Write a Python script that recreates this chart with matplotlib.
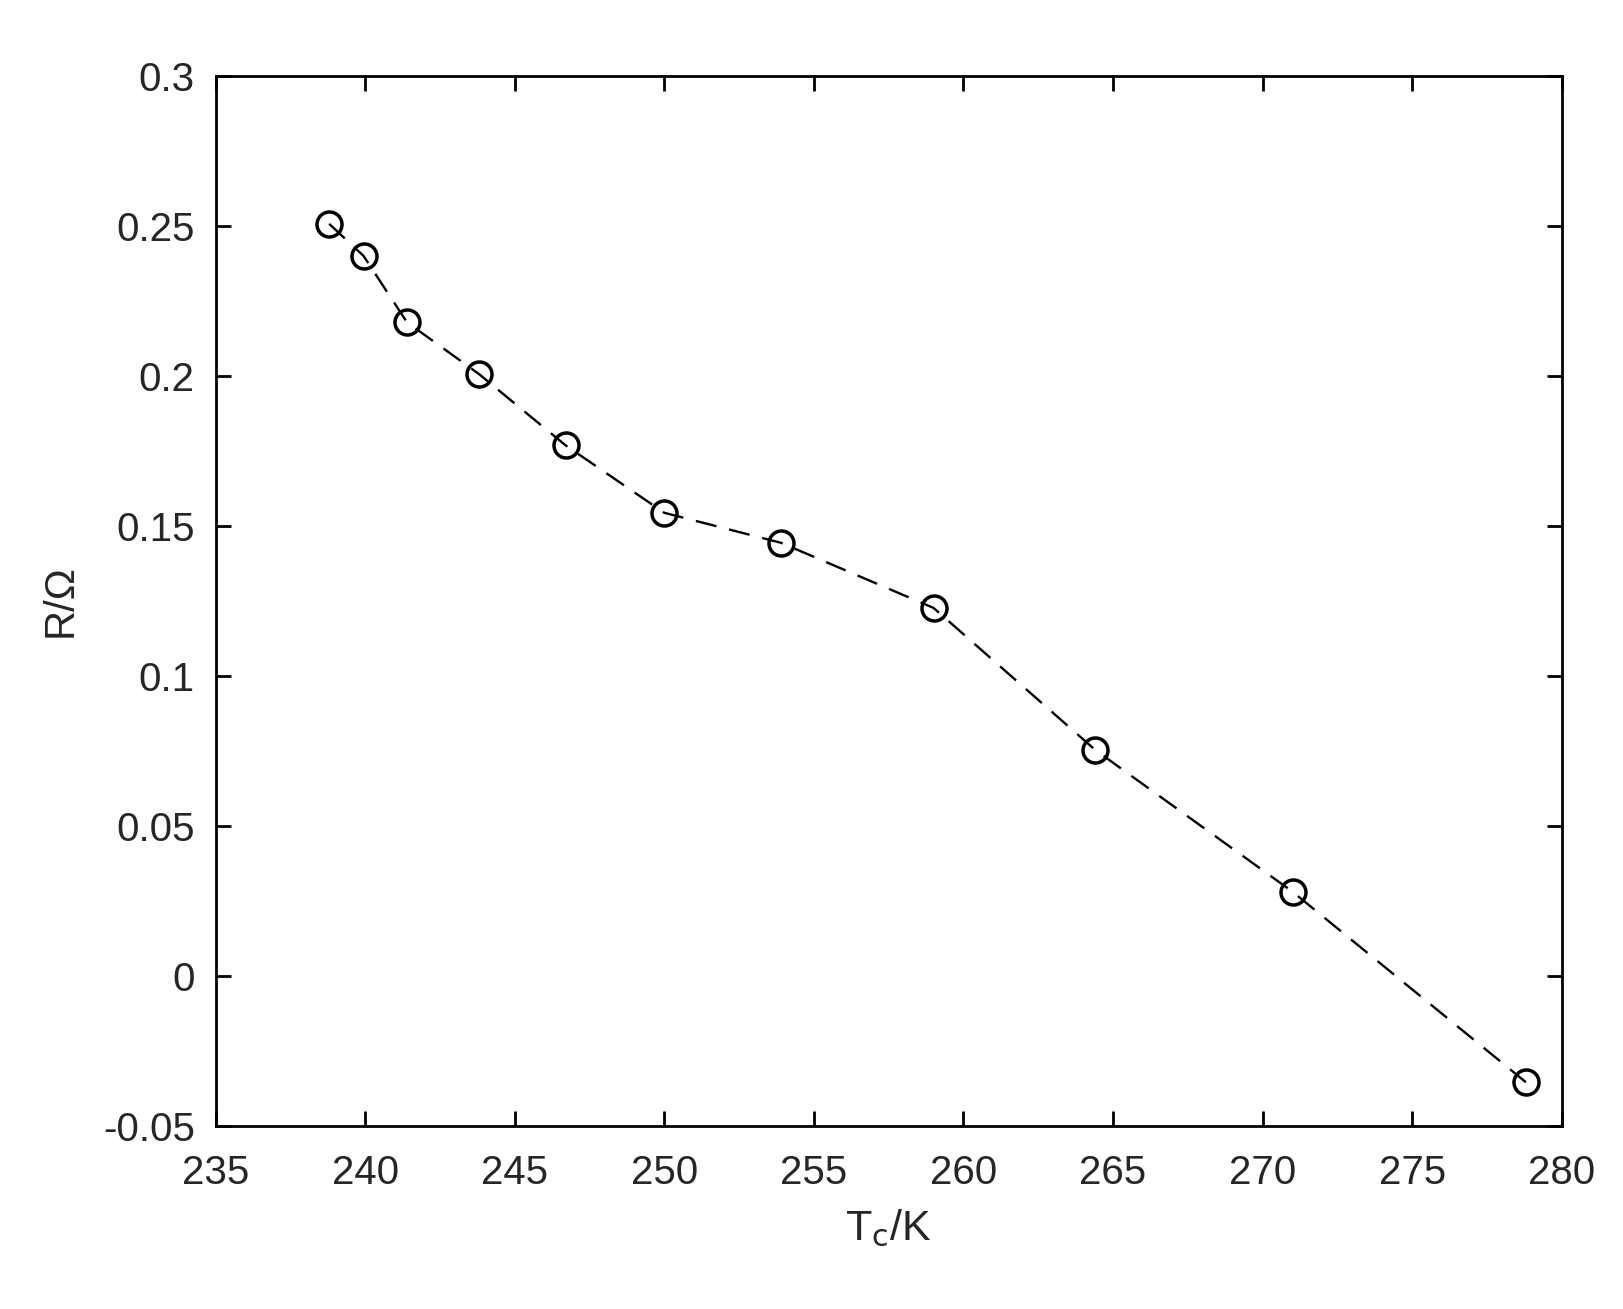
import matplotlib
matplotlib.use("Agg")
import matplotlib.pyplot as plt

# ── Data ────────────────────────────────────────────────────────────────────
tc = [238.8, 239.95, 241.4, 243.8, 246.7, 250.0, 253.9, 259.0, 264.4, 271.0, 278.8]
r = [0.2506, 0.2399, 0.2178, 0.2006, 0.1768, 0.1543, 0.1443, 0.1226, 0.0753, 0.0280, -0.0355]

xticks = [235, 240, 245, 250, 255, 260, 265, 270, 275, 280]
yticks = [-0.05, 0, 0.05, 0.1, 0.15, 0.2, 0.25, 0.3]
ytick_labels = ["-0.05", "0", "0.05", "0.1", "0.15", "0.2", "0.25", "0.3"]

plt.rcParams.update({
    "font.family": "Liberation Sans",
    "mathtext.default": "regular",
    "font.size": 29,
})

fig = plt.figure(figsize=(16.24, 13.09), dpi=100)
ax = fig.add_axes([0.1327, 0.14, 0.9617 - 0.1327, 0.9422 - 0.14])

ax.plot(tc, r, color="black", ls=(0, (9, 5.5)), lw=1.7,
        marker="o", ms=18, mfc="none", mec="black", mew=2.5)

ax.set_xlim(235, 280)
ax.set_ylim(-0.05, 0.3)
ax.set_xticks(xticks)
ax.set_yticks(yticks)
ax.set_yticklabels(ytick_labels)
ax.tick_params(direction="in", length=11, width=2.0, top=True, right=True,
               labelsize=29, colors="black", labelcolor="#262626")
ax.tick_params(axis="x", pad=20)
ax.tick_params(axis="y", pad=15)
for s in ax.spines.values():
    s.set_linewidth(2.0)

ax.set_xlabel("T$_{\\mathsf{c}}$/K", fontsize=31, color="#262626", labelpad=12)
ax.set_ylabel("R/Ω", fontsize=30, color="#262626", labelpad=16)

fig.savefig("out.png", dpi=100, facecolor="white")
